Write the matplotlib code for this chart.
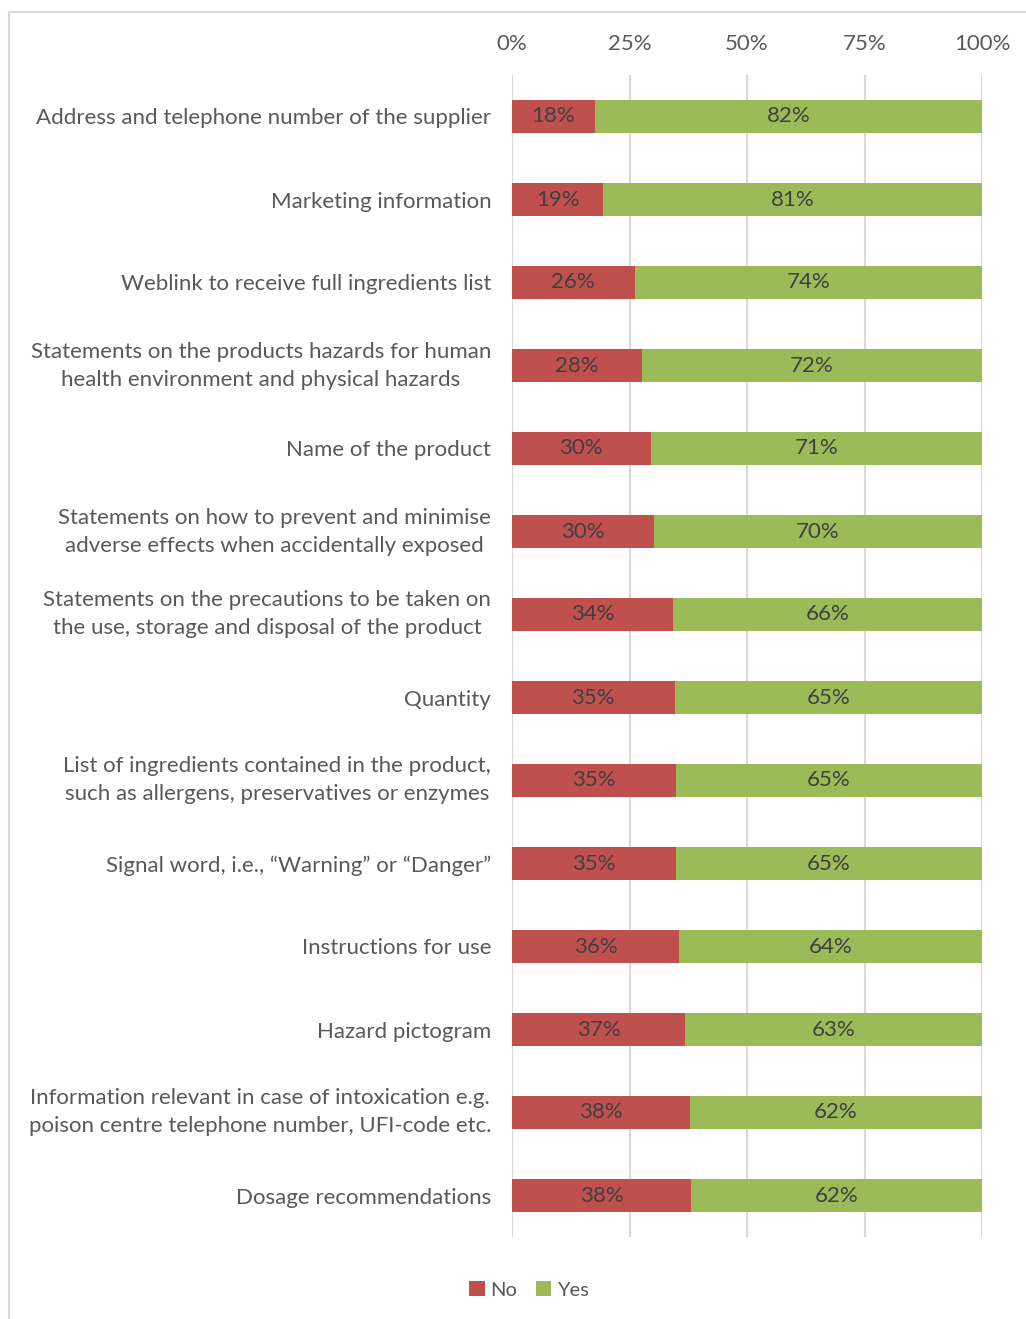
import matplotlib
matplotlib.use("Agg")
import matplotlib.pyplot as plt
from matplotlib.patches import Rectangle

plt.rcParams['font.family'] = ['Lato', 'DejaVu Sans']

categories = [
    "Address and telephone number of the supplier",
    "Marketing information",
    "Weblink to receive full ingredients list",
    "Statements on the products hazards for human\nhealth environment and physical hazards",
    "Name of the product",
    "Statements on how to prevent and minimise\nadverse effects when accidentally exposed",
    "Statements on the precautions to be taken on\nthe use, storage and disposal of the product",
    "Quantity",
    "List of ingredients contained in the product,\nsuch as allergens, preservatives or enzymes",
    "Signal word, i.e., \u201cWarning\u201d or \u201cDanger\u201d",
    "Instructions for use",
    "Hazard pictogram",
    "Information relevant in case of intoxication e.g.\npoison centre telephone number, UFI-code etc.",
    "Dosage recommendations",
]
no_vals = [17.6, 19.4, 26.1, 27.6, 29.5, 30.2, 34.2, 34.6, 34.8, 34.8, 35.6, 36.9, 37.9, 38.1]
yes_vals = [82.4, 80.6, 73.9, 72.4, 70.5, 69.8, 65.8, 65.4, 65.2, 65.2, 64.4, 63.1, 62.1, 61.9]
no_labels = ["18%", "19%", "26%", "28%", "30%", "30%", "34%", "35%", "35%", "35%", "36%", "37%", "38%", "38%"]
yes_labels = ["82%", "81%", "74%", "72%", "71%", "70%", "66%", "65%", "65%", "65%", "64%", "63%", "62%", "62%"]
xticks = [0, 25, 50, 75, 100]
xtick_labels = ["0%", "25%", "50%", "75%", "100%"]

RED = "#C0504D"
GREEN = "#9BBB59"
TXT = "#595959"
GRID = "#D9D9D9"
FS = 16

W, H = 1026, 1319
fig = plt.figure(figsize=(W / 100, H / 100), dpi=100)
ax = fig.add_axes([512 / W, 1 - 1237 / H, (982 - 512) / W, (1237 - 75) / H])

# chart border
fig.patches.append(Rectangle((9 / W, -0.05), 1.2, 1 - 12 / H + 0.05, transform=fig.transFigure,
                             fill=False, edgecolor="#D9D9D9", linewidth=1.5))

y = list(range(len(categories)))
b1 = ax.barh(y, no_vals, height=0.4, color=RED, label="No", zorder=3)
b2 = ax.barh(y, yes_vals, left=no_vals, height=0.4, color=GREEN, label="Yes", zorder=3)
ax.bar_label(b1, labels=no_labels, label_type="center", color="#404040", fontsize=FS)
ax.bar_label(b2, labels=yes_labels, label_type="center", color="#404040", fontsize=FS)

ax.set_ylim(len(categories) - 0.5, -0.5)
ax.set_xlim(0, 100)
ax.set_yticks(y)
ax.set_yticklabels(categories, fontsize=FS, color=TXT, linespacing=1.5)
ax.set_xticks(xticks)
ax.set_xticklabels(xtick_labels, fontsize=FS, color=TXT)
ax.xaxis.tick_top()
ax.tick_params(axis="both", length=0)
ax.tick_params(axis="y", pad=15)
ax.tick_params(axis="x", pad=15)
for lbl in ax.get_yticklabels():
    lbl.set_horizontalalignment("right")
    lbl.set_multialignment("center")
    if "\n" in lbl.get_text():
        lbl.set_verticalalignment("center")
for s in ax.spines.values():
    s.set_visible(False)
ax.grid(axis="x", color=GRID, linewidth=1.5, zorder=0)
ax.grid(axis="y", visible=False)

fig.legend(handles=[b1, b2], labels=["No", "Yes"], loc="center", bbox_to_anchor=(529 / W, 1 - 1290 / H),
           ncol=2, frameon=False, fontsize=14.5, labelcolor=TXT, handlelength=0.75, handleheight=0.75,
           handletextpad=0.3, columnspacing=0.9)

fig.savefig("out.png", dpi=100)
